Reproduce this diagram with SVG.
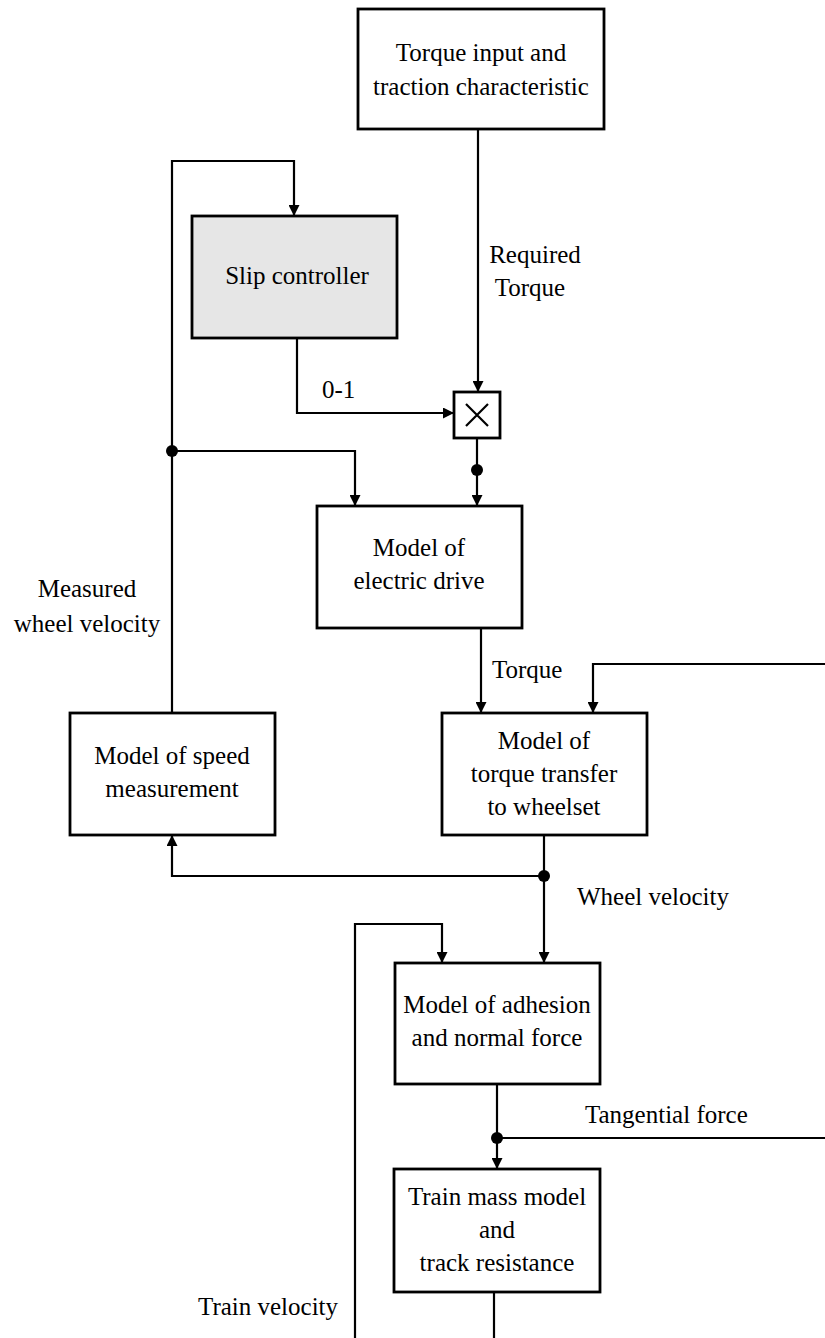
<svg xmlns="http://www.w3.org/2000/svg" width="825" height="1338" viewBox="0 0 825 1338">
  <style>
    .box { fill: #ffffff; stroke: #000000; stroke-width: 2.8; }
    .shaded { fill: #e6e6e6; }
    .wire { fill: none; stroke: #000000; stroke-width: 2.2; }
    .arrow { marker-end: url(#head); }
    .dot { fill: #000000; }
    text { font-family: "Liberation Serif", "Times New Roman", serif; font-size: 25px; fill: #000000; }
    .c { text-anchor: middle; }
  </style>
  <defs>
    <marker id="head" viewBox="0 0 10 10" refX="10" refY="5" markerWidth="5" markerHeight="5" markerUnits="strokeWidth" orient="auto">
      <path d="M0,0 L10,5 L0,10 Z" fill="#000000"/>
    </marker>
  </defs>
  <rect width="825" height="1338" fill="#ffffff"/>

  <g id="connectors">
    <!-- required torque into multiplier -->
    <path class="wire arrow" d="M478,129 V392"/>
    <!-- slip controller factor 0-1 -->
    <path class="wire arrow" d="M297,338 V413 H454"/>
    <!-- multiplier to electric drive -->
    <path class="wire arrow" d="M477,438 V506"/>
    <circle class="dot" cx="477" cy="470" r="6"/>
    <!-- measured wheel velocity feedback -->
    <path class="wire arrow" d="M172,713 V161 H294 V216"/>
    <circle class="dot" cx="172" cy="451" r="6"/>
    <path class="wire arrow" d="M172,451 H355 V506"/>
    <!-- torque to transfer model -->
    <path class="wire arrow" d="M481,628 V713"/>
    <!-- tangential force return -->
    <path class="wire arrow" d="M825,664 H593 V713"/>
    <!-- wheel velocity -->
    <path class="wire arrow" d="M544,835 V963"/>
    <circle class="dot" cx="544" cy="876" r="6"/>
    <path class="wire arrow" d="M544,876 H172 V835"/>
    <!-- train velocity return -->
    <path class="wire arrow" d="M355,1338 V924 H442 V963"/>
    <!-- tangential force -->
    <path class="wire arrow" d="M497,1084 V1169"/>
    <circle class="dot" cx="497" cy="1138" r="6"/>
    <path class="wire" d="M497,1138 H825"/>
    <!-- train mass output -->
    <path class="wire" d="M494,1292 V1338"/>
  </g>

  <g id="torque-input">
    <rect class="box" x="358" y="9" width="246" height="120"/>
    <text class="c" x="481" y="61">Torque input and</text>
    <text class="c" x="481" y="95">traction characteristic</text>
  </g>

  <g id="slip-controller">
    <rect class="box shaded" x="192" y="216" width="205" height="122"/>
    <text class="c" x="297" y="284">Slip controller</text>
  </g>

  <g id="multiplier">
    <rect class="box" x="454" y="392" width="46" height="46"/>
    <path class="wire" d="M466,404 L488,426 M488,404 L466,426"/>
  </g>

  <g id="electric-drive">
    <rect class="box" x="317" y="506" width="205" height="122"/>
    <text class="c" x="419" y="556">Model of</text>
    <text class="c" x="419" y="589">electric drive</text>
  </g>

  <g id="speed-measurement">
    <rect class="box" x="70" y="713" width="205" height="122"/>
    <text class="c" x="172" y="764">Model of speed</text>
    <text class="c" x="172" y="797">measurement</text>
  </g>

  <g id="torque-transfer">
    <rect class="box" x="442" y="713" width="205" height="122"/>
    <text class="c" x="544" y="749">Model of</text>
    <text class="c" x="544" y="782">torque transfer</text>
    <text class="c" x="544" y="815">to wheelset</text>
  </g>

  <g id="adhesion">
    <rect class="box" x="395" y="963" width="205" height="121"/>
    <text class="c" x="497" y="1013">Model of adhesion</text>
    <text class="c" x="497" y="1046">and normal force</text>
  </g>

  <g id="train-mass">
    <rect class="box" x="394" y="1169" width="206" height="123"/>
    <text class="c" x="497" y="1205">Train mass model</text>
    <text class="c" x="497" y="1238">and</text>
    <text class="c" x="497" y="1271">track resistance</text>
  </g>

  <g id="labels">
    <text class="c" x="535" y="263">Required</text>
    <text class="c" x="530" y="296">Torque</text>
    <text x="322" y="398">0-1</text>
    <text class="c" x="87" y="597">Measured</text>
    <text class="c" x="87" y="632">wheel velocity</text>
    <text x="492" y="678">Torque</text>
    <text x="577" y="905">Wheel velocity</text>
    <text x="585" y="1123">Tangential force</text>
    <text x="198" y="1315">Train velocity</text>
  </g>
</svg>
